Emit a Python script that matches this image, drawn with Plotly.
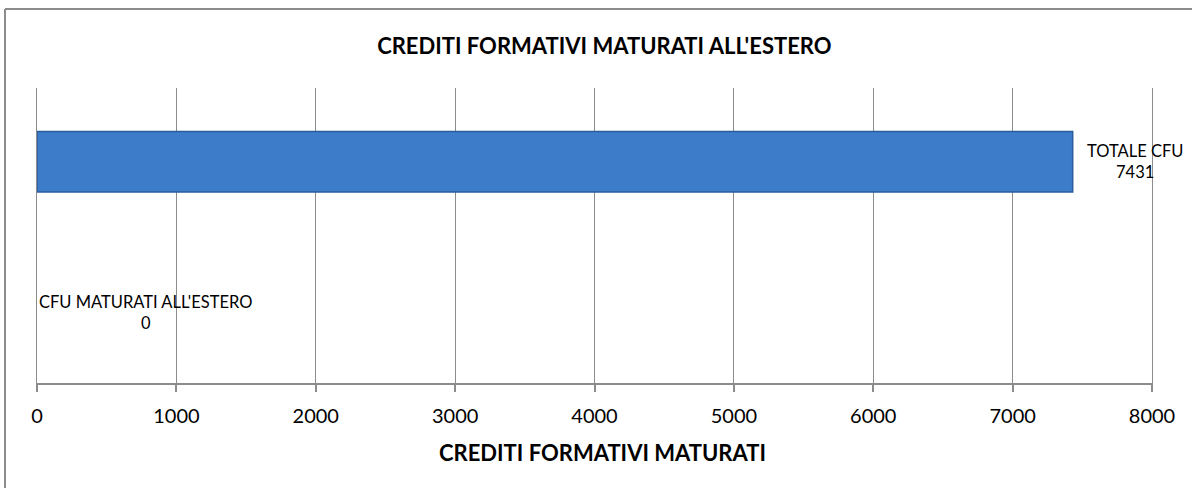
import plotly.graph_objects as go

# Data
categories = ["CFU MATURATI ALL'ESTERO", "TOTALE CFU"]
cfu_values = [0, 7431]
x_ticks = [0, 1000, 2000, 3000, 4000, 5000, 6000, 7000, 8000]

chart_title = "CREDITI FORMATIVI MATURATI ALL'ESTERO"
x_title = "CREDITI FORMATIVI MATURATI"

FONT = "Lato"
GRID = "#8c8c8c"

fig = go.Figure()

fig.add_trace(go.Bar(
    x=cfu_values,
    y=categories,
    orientation="h",
    width=0.41,
    marker=dict(
        color="#3d7cc9",
        # no outline on an empty bar
        line=dict(color="#2b5c9b", width=[1.5 if v > 0 else 0 for v in cfu_values]),
    ),
    hoverinfo="x+y",
    showlegend=False,
))

# data labels next to each bar end
for cat, val in zip(categories, cfu_values):
    fig.add_annotation(
        x=val, y=cat, xref="x", yref="y",
        text=f"{cat}<br>{val}",
        xanchor="left", yanchor="middle", align="center",
        xshift=12 if val > 0 else 0,
        yshift=0 if val > 0 else -3,
        showarrow=False,
        font=dict(family=FONT, size=16.5, color="#000000"),
    )

# x axis title
fig.add_annotation(
    x=0.5076, y=-0.234, xref="paper", yref="paper",
    text=f"<b>{x_title}</b>", showarrow=False,
    xanchor="center", yanchor="middle",
    font=dict(family=FONT, size=22, color="#000000"),
)

# chart frame
fig.add_shape(type="line", xref="paper", yref="paper",
              x0=-0.0287, x1=1.2, y0=1.2678, y1=1.2678,
              line=dict(color="#8c8c8c", width=2))
fig.add_shape(type="line", xref="paper", yref="paper",
              x0=-0.0287, x1=-0.0287, y0=1.2678, y1=-0.5,
              line=dict(color="#8c8c8c", width=2))

fig.update_layout(
    width=1192, height=488,
    margin=dict(l=37, r=40, t=88, b=105),
    paper_bgcolor="white",
    plot_bgcolor="white",
    font=dict(family=FONT, color="#000000"),
    title=dict(
        text=f"<b>{chart_title}</b>",
        x=0.507, xref="container", xanchor="center",
        y=0.906, yref="container", yanchor="middle",
        font=dict(family=FONT, size=22, color="#000000"),
    ),
    xaxis=dict(
        range=[0, 8000],
        tickvals=x_ticks,
        showgrid=True, gridcolor=GRID, gridwidth=1,
        zeroline=False,
        showline=True, linecolor=GRID, linewidth=1.5,
        ticks="outside", ticklen=7, tickcolor=GRID, tickwidth=1.5,
        ticklabelstandoff=7,
        tickfont=dict(family=FONT, size=20, color="#000000"),
    ),
    yaxis=dict(
        range=[-0.5, 1.5],
        showticklabels=False,
        showgrid=False,
        showline=True, mirror=True, linecolor=GRID, linewidth=1,
        ticks="",
    ),
)

# drop the default page margin so the figure sits at the window's corner
fig.write_html(
    "out.html",
    config={"displayModeBar": False},
    post_script="document.body.style.margin='0';",
)
